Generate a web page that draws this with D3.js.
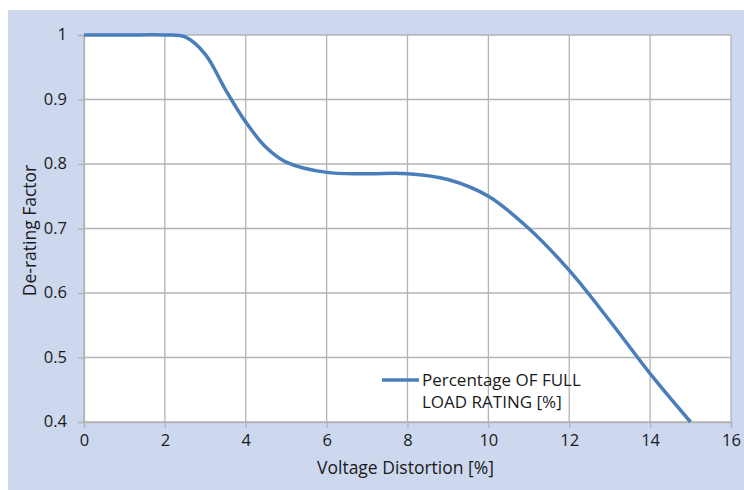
<!DOCTYPE html>
<html>
<head>
<meta charset="utf-8">
<script src="https://cdn.jsdelivr.net/npm/d3@7"></script>
<style>
  body { margin: 0; background: #fff; }
  svg { font-family: "Open Sans", "Noto Sans", sans-serif; }
</style>
</head>
<body>
<div id="chart_div"></div>
<script>
// values
var distortion = [0, 1, 2, 2.5, 3, 3.5, 4, 4.5, 5, 6, 7, 8, 9, 10, 11, 12, 13, 14, 15];
var derating   = [1.0, 1.0, 1.0, 0.997, 0.97, 0.915, 0.865, 0.826, 0.803, 0.787, 0.785, 0.785, 0.776, 0.75, 0.70, 0.635, 0.557, 0.475, 0.40];
var xTicks = [0, 2, 4, 6, 8, 10, 12, 14, 16];
var yTicks = [0.4, 0.5, 0.6, 0.7, 0.8, 0.9, 1];
var seriesName = ["Percentage OF FULL", "LOAD RATING [%]"];

var data = distortion.map(function(d, i) { return {x: d, y: derating[i]}; });

var margin = {top: 35, right: 13, bottom: 68, left: 84},
    width = 744 - margin.left - margin.right,
    height = 490 - margin.top - margin.bottom;

var svg = d3.select("#chart_div").append("svg")
    .attr("width", 744)
    .attr("height", 490);

// lavender frame
svg.append("rect")
    .attr("x", 8).attr("y", 10)
    .attr("width", 736).attr("height", 480)
    .attr("fill", "#cdd8ee");

var g = svg.append("g")
    .attr("transform", "translate(" + margin.left + "," + margin.top + ")");

var x = d3.scaleLinear().domain([0, 16]).range([0, width]);
var y = d3.scaleLinear().domain([0.4, 1]).range([height, 0]);

g.append("rect")
    .attr("width", width).attr("height", height)
    .attr("fill", "#fff");

// grid
g.selectAll(".vgrid").data(xTicks).enter().append("line")
    .attr("x1", function(d) { return x(d); }).attr("x2", function(d) { return x(d); })
    .attr("y1", 0).attr("y2", height)
    .attr("stroke", "#b3b3b3").attr("stroke-width", 1.3);
g.selectAll(".hgrid").data(yTicks).enter().append("line")
    .attr("x1", 0).attr("x2", width)
    .attr("y1", function(d) { return y(d); }).attr("y2", function(d) { return y(d); })
    .attr("stroke", "#b3b3b3").attr("stroke-width", 1.3);

// axes
var xAxis = g.append("g")
    .attr("transform", "translate(0," + height + ")")
    .call(d3.axisBottom(x).tickValues(xTicks).tickSize(6).tickPadding(6));
var yAxis = g.append("g")
    .call(d3.axisLeft(y).tickValues(yTicks).tickSize(6).tickPadding(11)
      .tickFormat(function(d) { return d === 1 ? "1" : d3.format(".1f")(d); }));

[xAxis, yAxis].forEach(function(a) {
  a.select(".domain").attr("stroke", "#b3b3b3").attr("stroke-width", 1.3);
  a.selectAll(".tick line").attr("stroke", "#b3b3b3").attr("stroke-width", 1.3);
  a.selectAll("text").attr("font-size", 16.5).attr("fill", "#1a1a1a")
    .attr("font-family", "'Open Sans', 'Noto Sans', sans-serif");
});
yAxis.selectAll("text").attr("dy", "0.3em");

// curve
var line = d3.line()
    .x(function(d) { return x(d.x); })
    .y(function(d) { return y(d.y); })
    .curve(d3.curveCatmullRom.alpha(0.5));

g.append("path")
    .datum(data)
    .attr("fill", "none")
    .attr("stroke", "#4a7ebb")
    .attr("stroke-width", 3.5)
    .attr("d", line);

// legend
var lg = g.append("g").attr("transform", "translate(" + (382 - margin.left) + "," + (380 - margin.top) + ")");
lg.append("line")
    .attr("x1", 0).attr("x2", 37).attr("y1", 0).attr("y2", 0)
    .attr("stroke", "#4a7ebb").attr("stroke-width", 3.5);
lg.selectAll("text").data(seriesName).enter().append("text")
    .attr("x", 40)
    .attr("y", function(d, i) { return 6 + i * 22; })
    .attr("font-size", 17)
    .attr("fill", "#1a1a1a")
    .text(function(d) { return d; });

// axis titles
svg.append("text")
    .attr("x", margin.left + width / 2 - 2)
    .attr("y", 474)
    .attr("text-anchor", "middle")
    .attr("font-size", 17.5)
    .attr("fill", "#1a1a1a")
    .text("Voltage Distortion [%]");

svg.append("text")
    .attr("transform", "translate(36," + (margin.top + height / 2 + 2) + ") rotate(-90)")
    .attr("text-anchor", "middle")
    .attr("font-size", 17.5)
    .attr("fill", "#1a1a1a")
    .text("De-rating Factor");
</script>
</body>
</html>
